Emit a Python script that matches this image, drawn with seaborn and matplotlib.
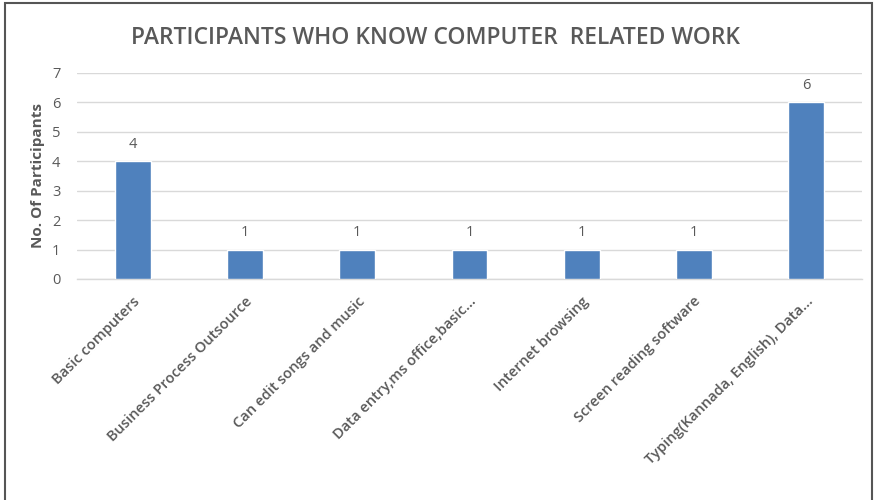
import matplotlib
matplotlib.use("Agg")
import matplotlib.pyplot as plt
from matplotlib.patches import Rectangle
import seaborn as sns
import pandas as pd

categories = [
    "Basic computers",
    "Business Process Outsource",
    "Can edit songs and music",
    "Data entry,ms office,basic...",
    "Internet browsing",
    "Screen reading software",
    "Typing(Kannada, English), Data...",
]
participants = [4, 1, 1, 1, 1, 1, 6]
y_ticks = [0, 1, 2, 3, 4, 5, 6, 7]

df = pd.DataFrame({"category": categories, "count": participants})

sns.set_theme(style="white")
plt.rcParams["font.family"] = ["Open Sans", "DejaVu Sans"]

text_color = "#595959"
bar_color = "#4f81bd"
grid_color = "#d9d9d9"

fig = plt.figure(figsize=(8.78, 5.0), dpi=100)
ax = fig.add_axes([0.0877, 0.442, 0.894, 0.412])

sns.barplot(data=df, x="category", y="count", color=bar_color, width=0.32,
            saturation=1, ax=ax, zorder=3)

ax.set_xlim(-0.5, len(categories) - 0.5)
ax.set_ylim(0, 7)
ax.set_yticks(y_ticks)
ax.yaxis.grid(True, color=grid_color, linewidth=1.0, zorder=0)
ax.xaxis.grid(False)
for side in ["top", "right", "left"]:
    ax.spines[side].set_visible(False)
ax.spines["bottom"].set_color(grid_color)
ax.spines["bottom"].set_linewidth(1.0)
ax.tick_params(axis="both", length=0, colors=text_color)
ax.tick_params(axis="y", labelsize=10.5, pad=12)
ax.set_xticks(range(len(categories)))
ax.set_xticklabels(categories, rotation=45, ha="right", rotation_mode="anchor",
                   fontsize=10.5, fontweight="semibold", color=text_color)
ax.tick_params(axis="x", pad=11)

ax.set_xlabel("")
ax.set_ylabel("No. Of Participants", fontsize=11, fontweight="bold",
              color=text_color, labelpad=5)

for container in ax.containers:
    ax.bar_label(container, labels=[str(v) for v in participants], padding=7,
                 fontsize=10.5, color=text_color)

fig.text(0.496, 0.925, "PARTICIPANTS WHO KNOW COMPUTER  RELATED WORK",
         ha="center", va="center", fontsize=16.5, fontweight="semibold",
         color=text_color)

# frame around the chart area
fig.patches.append(Rectangle((5 / 878, -0.05), 867 / 878, 1.044,
                             transform=fig.transFigure, fill=False,
                             edgecolor="#555555", linewidth=1.5))

fig.savefig("out.png", dpi=100, facecolor="white")
